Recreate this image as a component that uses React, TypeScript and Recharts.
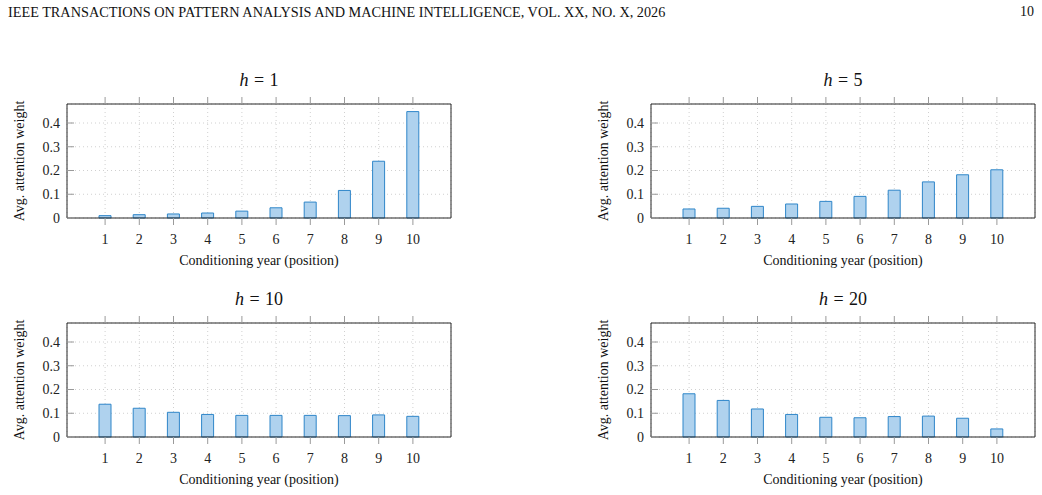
import React from 'react';
import { BarChart, Bar, XAxis, YAxis, CartesianGrid } from 'recharts';

// conditioning-year positions on the x axis
const positions = [1, 2, 3, 4, 5, 6, 7, 8, 9, 10];

// avg. attention weight per position, one array per horizon
const weightsH1 = [0.01, 0.014, 0.017, 0.021, 0.029, 0.043, 0.067, 0.116, 0.239, 0.448];
const weightsH5 = [0.038, 0.041, 0.049, 0.059, 0.07, 0.091, 0.117, 0.152, 0.182, 0.203];
const weightsH10 = [0.138, 0.121, 0.104, 0.095, 0.091, 0.091, 0.091, 0.09, 0.093, 0.087];
const weightsH20 = [0.182, 0.154, 0.118, 0.095, 0.083, 0.081, 0.086, 0.088, 0.079, 0.034];

const yTicks = [0, 0.1, 0.2, 0.3, 0.4];

const FONT = '"Liberation Serif", "DejaVu Serif", serif';
const BAR_FILL = '#afd2ee';
const BAR_STROKE = '#2f86c9';
const AXIS = '#262626';
const TICK = '#9a9a9a';

const hiddenTick = () => <g />;
const fmt = (v: number) => (v === 0 ? '0' : String(v));

interface PanelProps {
  h: number;
  weights: number[];
  x: number;
  y: number;
}

const Panel: React.FC<PanelProps> = ({ h, weights, x, y }) => {
  const data = positions.map((p, i) => ({ pos: p, w: weights[i] }));

  return (
    <div style={{ position: 'absolute', left: x, top: y, width: 470, height: 215 }}>
      <div
        style={{
          position: 'absolute', left: 67, top: 10.5, width: 384, textAlign: 'center',
          fontSize: 18, lineHeight: '18px', color: '#111', whiteSpace: 'pre',
        }}
      >
        <span style={{ fontStyle: 'italic' }}>h</span>
        <span style={{ margin: '0 0.3em' }}>=</span>
        {h}
      </div>
      <div style={{ position: 'absolute', left: 0, top: 30 }}>
        <BarChart width={470} height={170} data={data} margin={{ top: 13, right: 18, bottom: 12, left: 27 }}>
          <CartesianGrid stroke="#d0d0d0" strokeDasharray="1 3" />
          <XAxis
            dataKey="pos"
            type="category"
            interval={0}
            padding={{ left: 21, right: 21 }}
            height={30}
            tickSize={7}
            tickMargin={9}
            axisLine={{ stroke: AXIS }}
            tickLine={{ stroke: TICK }}
            tick={{ fill: '#222', fontSize: 14, fontFamily: FONT }}
          />
          <XAxis
            xAxisId="top"
            orientation="top"
            dataKey="pos"
            type="category"
            interval={0}
            padding={{ left: 21, right: 21 }}
            height={1}
            tickSize={7}
            axisLine={{ stroke: AXIS }}
            tickLine={{ stroke: TICK }}
            tick={hiddenTick}
          />
          <YAxis
            type="number"
            domain={[0, 0.48]}
            ticks={yTicks}
            width={40}
            tickSize={-7}
            tickMargin={14}
            tickFormatter={fmt}
            axisLine={{ stroke: AXIS }}
            tickLine={{ stroke: TICK }}
            tick={{ fill: '#222', fontSize: 14, fontFamily: FONT }}
          />
          <YAxis
            yAxisId="r"
            orientation="right"
            type="number"
            domain={[0, 0.48]}
            ticks={yTicks}
            width={1}
            tickSize={-7}
            axisLine={{ stroke: AXIS }}
            tickLine={{ stroke: TICK }}
            tick={hiddenTick}
          />
          <Bar dataKey="w" barSize={12} fill={BAR_FILL} stroke={BAR_STROKE} strokeWidth={1} isAnimationActive={false} />
        </BarChart>
      </div>
      <div
        style={{
          position: 'absolute', left: 67, top: 194.3, width: 384, textAlign: 'center',
          fontSize: 14, lineHeight: '14px', color: '#111',
        }}
      >
        Conditioning year (position)
      </div>
      <div
        style={{
          position: 'absolute', left: 20 - 100, top: 101 - 8, width: 200, height: 16,
          textAlign: 'center', fontSize: 14, lineHeight: '16px', color: '#111',
          transform: 'rotate(-90deg)',
        }}
      >
        Avg. attention weight
      </div>
    </div>
  );
};

export default function App() {
  return (
    <div
      style={{
        position: 'absolute', left: 0, top: 0, width: 1042, height: 495,
        background: '#fff', fontFamily: FONT, overflow: 'hidden',
      }}
    >
      <div style={{ position: 'absolute', left: 8, top: 5, fontSize: 14.25, lineHeight: '14px', color: '#111', whiteSpace: 'nowrap' }}>
        IEEE TRANSACTIONS ON PATTERN ANALYSIS AND MACHINE INTELLIGENCE, VOL. XX, NO. X, 2026
      </div>
      <div style={{ position: 'absolute', right: 8, top: 5, fontSize: 14, lineHeight: '14px', color: '#111' }}>10</div>
      <Panel h={1} weights={weightsH1} x={0} y={60} />
      <Panel h={5} weights={weightsH5} x={584} y={60} />
      <Panel h={10} weights={weightsH10} x={0} y={279} />
      <Panel h={20} weights={weightsH20} x={584} y={279} />
    </div>
  );
}
